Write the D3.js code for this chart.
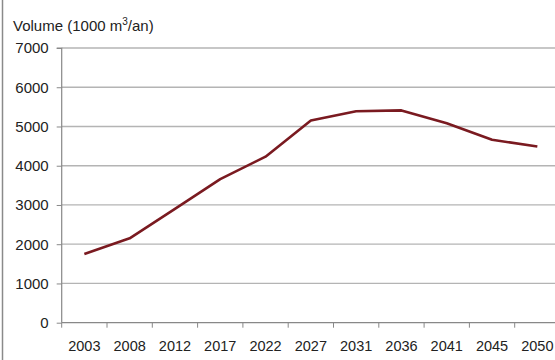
<!DOCTYPE html>
<html><head><meta charset="utf-8">
<script src="https://cdn.jsdelivr.net/npm/d3@7"></script>
<style>body{margin:0;background:#fff}svg{display:block}text{font-family:"Liberation Sans",Arial,sans-serif}</style>
</head><body>
<svg id="c" width="555" height="360"></svg>
<script>
const years = ["2003","2008","2012","2017","2022","2027","2031","2036","2041","2045","2050"];
const volumes = [1750, 2150, 2900, 3660, 4230, 5150, 5390, 5410, 5080, 4660, 4490];
const yTicks = [0,1000,2000,3000,4000,5000,6000,7000];

(function(){
const svg = d3.select("#c");
const pL = 61.7, pR = 560, pT = 48, pB = 322.7;
const x = d3.scaleBand().domain(years).range([pL, pR]);
const y = d3.scaleLinear().domain([0,7000]).range([pB, pT]);

// left frame border
svg.append("line").attr("x1",2.5).attr("x2",2.5).attr("y1",0).attr("y2",360).attr("stroke","#8a8a8a").attr("stroke-width",1.5);

// gridlines
svg.append("g").selectAll("line").data(yTicks.filter(d=>d>0)).join("line")
  .attr("x1",pL).attr("x2",555).attr("y1",d=>y(d)).attr("y2",d=>y(d))
  .attr("stroke","#b4b4b4").attr("stroke-width",1.3);

// y axis
const ya = svg.append("g").attr("transform",`translate(${pL},0)`)
  .call(d3.axisLeft(y).tickValues(yTicks).tickSize(5).tickPadding(8).tickFormat(d3.format("d")));
ya.select(".domain").attr("stroke","#888").attr("stroke-width",1.2).attr("d",`M-5,${pT}H0V${pB}`);
ya.selectAll(".tick line").attr("stroke","#888");
ya.selectAll("text").attr("font-size",15).attr("fill","#222").attr("font-family","Liberation Sans, Arial, sans-serif");

// x axis with ticks between categories
const xa = svg.append("g").attr("transform",`translate(0,${pB})`);
xa.append("line").attr("x1",pL).attr("x2",555).attr("y1",0).attr("y2",0).attr("stroke","#888").attr("stroke-width",1.2);
xa.selectAll("line.tk").data(years).join("line").attr("class","tk")
  .attr("x1",d=>x(d)+x.bandwidth()).attr("x2",d=>x(d)+x.bandwidth()).attr("y1",0).attr("y2",5).attr("stroke","#888");
xa.append("line").attr("x1",pL).attr("x2",pL).attr("y1",0).attr("y2",5).attr("stroke","#888");
xa.selectAll("text").data(years).join("text")
  .attr("x",d=>x(d)+x.bandwidth()/2).attr("y",28.5).attr("text-anchor","middle")
  .attr("font-size",14.5).attr("fill","#222").text(d=>d);

// y title
const t = svg.append("text").attr("x",13).attr("y",31).attr("font-size",15).attr("fill","#222");
t.append("tspan").text("Volume (1000 m");
t.append("tspan").attr("font-size",10).attr("dy",-6).text("3");
t.append("tspan").attr("dy",6).text("/an)");

// line
const line = d3.line().x((d,i)=>x(years[i])+x.bandwidth()/2).y(d=>y(d));
svg.append("path").datum(volumes).attr("d",line).attr("fill","none")
  .attr("stroke","#7a1a20").attr("stroke-width",2.6).attr("stroke-linejoin","round");
})();
</script>
</body></html>
